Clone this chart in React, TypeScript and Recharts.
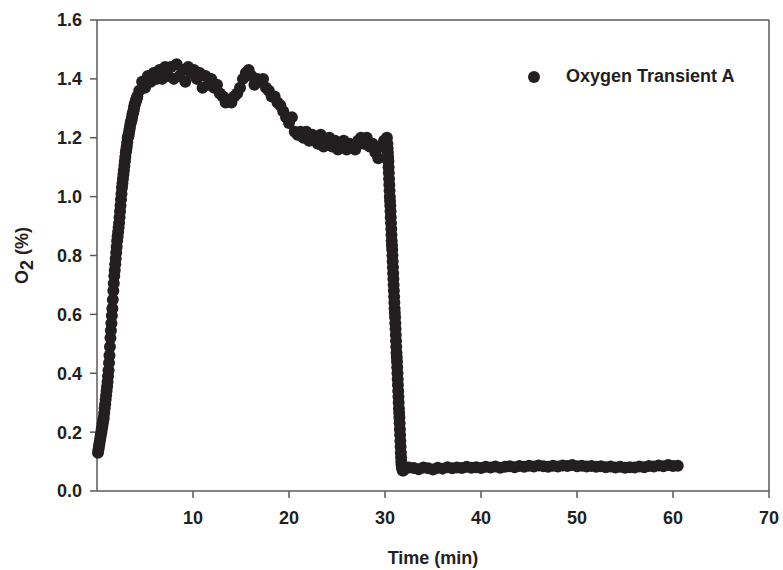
import { ScatterChart, Scatter, XAxis, YAxis, ReferenceLine } from "recharts";

// time (min) and O2 (%), split by segment
const riseTime = [
  0.1, 0.15, 0.2, 0.25, 0.3, 0.35, 0.4, 0.45, 0.5, 0.55, 0.6, 0.65, 0.7,
  0.75, 0.8, 0.85, 0.9, 0.95, 1.0, 1.05, 1.1, 1.15, 1.2, 1.25, 1.3, 1.35,
  1.4, 1.45, 1.5, 1.55, 1.6, 1.65, 1.7, 1.75, 1.8, 1.85, 1.9, 1.95, 2.0,
  2.05, 2.1, 2.15, 2.2, 2.25, 2.3, 2.35, 2.4, 2.45, 2.5, 2.55, 2.6, 2.65,
  2.7, 2.75, 2.8, 2.85, 2.9, 2.95, 3.0, 3.05, 3.1, 3.15, 3.2, 3.25, 3.3,
  3.35, 3.4, 3.45, 3.5, 3.55, 3.6, 3.65, 3.7, 3.75, 3.8, 3.85, 3.9, 3.95,
  4.0, 4.05, 4.1, 4.15, 4.2,
];
const riseO2 = [
  0.13, 0.14, 0.15, 0.16, 0.17, 0.18, 0.19, 0.2, 0.21, 0.22, 0.23, 0.24,
  0.25, 0.265, 0.28, 0.295, 0.31, 0.325, 0.34, 0.355, 0.37, 0.39, 0.41,
  0.435, 0.46, 0.49, 0.52, 0.545, 0.57, 0.595, 0.62, 0.65, 0.68, 0.705,
  0.73, 0.75, 0.77, 0.79, 0.81, 0.83, 0.85, 0.865, 0.88, 0.895, 0.91, 0.93,
  0.95, 0.97, 0.99, 1.01, 1.03, 1.045, 1.06, 1.075, 1.09, 1.105, 1.12,
  1.135, 1.15, 1.16, 1.17, 1.185, 1.2, 1.205, 1.21, 1.22, 1.23, 1.24, 1.25,
  1.255, 1.26, 1.27, 1.28, 1.285, 1.29, 1.3, 1.31, 1.315, 1.32, 1.325,
  1.33, 1.335, 1.34,
];

const plateauTime = [
  4.4, 4.7, 5.0, 5.3, 5.6, 5.9, 6.2, 6.5, 6.8, 7.1, 7.4, 7.7, 8.0, 8.3,
  8.6, 8.9, 9.2, 9.5, 9.8, 10.1, 10.4, 10.7, 11.0, 11.3, 11.6, 11.9, 12.2,
  12.5, 12.8, 13.1, 13.4, 13.7, 14.0, 14.3, 14.6, 14.9, 15.2, 15.5, 15.8,
  16.1, 16.4, 16.7, 17.0, 17.3, 17.6, 17.9, 18.2, 18.5, 18.8, 19.1, 19.4,
  19.7, 20.0, 20.3, 20.6, 20.9, 21.2, 21.5, 21.8, 22.1, 22.4, 22.7, 23.0,
  23.3, 23.6, 23.9, 24.2, 24.5, 24.8, 25.1, 25.4, 25.7, 26.0, 26.3, 26.6,
  26.9, 27.2, 27.5, 27.8, 28.1, 28.4, 28.7, 29.0, 29.3, 29.6, 29.9, 30.2,
];
const plateauO2 = [
  1.36, 1.39, 1.37, 1.41, 1.39, 1.42, 1.4, 1.43, 1.4, 1.44, 1.41, 1.44,
  1.4, 1.45, 1.41, 1.43, 1.39, 1.44, 1.42, 1.43, 1.4, 1.42, 1.37, 1.41,
  1.38, 1.4, 1.37, 1.38, 1.35, 1.34, 1.32, 1.33, 1.32, 1.34, 1.35, 1.37,
  1.4, 1.42, 1.43, 1.41, 1.38, 1.4, 1.39, 1.4, 1.37, 1.36, 1.34, 1.34,
  1.32, 1.31, 1.29, 1.27, 1.25, 1.27, 1.22, 1.21, 1.22, 1.2, 1.22, 1.19,
  1.21, 1.2, 1.18, 1.21, 1.17, 1.19, 1.2, 1.17, 1.19, 1.16, 1.18, 1.19,
  1.16, 1.18, 1.17, 1.16, 1.19, 1.2, 1.18, 1.2, 1.17, 1.18, 1.15, 1.13,
  1.17, 1.19, 1.2,
];

const dropTime = [
  30.25, 30.275, 30.3, 30.325, 30.35, 30.375, 30.4, 30.425, 30.45, 30.475,
  30.5, 30.525, 30.55, 30.575, 30.6, 30.625, 30.65, 30.675, 30.7, 30.725,
  30.75, 30.775, 30.8, 30.825, 30.85, 30.875, 30.9, 30.925, 30.95, 30.975,
  31.0, 31.025, 31.05, 31.075, 31.1, 31.125, 31.15, 31.175, 31.2, 31.225,
  31.25, 31.275, 31.3, 31.325, 31.35, 31.375, 31.4, 31.425, 31.45, 31.475,
  31.5, 31.525, 31.55, 31.575, 31.6, 31.625, 31.65, 31.675, 31.7, 31.725,
  31.75, 31.775, 31.8, 31.85, 31.9,
];
const dropO2 = [
  1.18, 1.165, 1.15, 1.135, 1.12, 1.1, 1.08, 1.06, 1.04, 1.02, 1.0, 0.985,
  0.97, 0.95, 0.93, 0.91, 0.89, 0.87, 0.85, 0.835, 0.82, 0.8, 0.78, 0.76,
  0.74, 0.72, 0.7, 0.68, 0.66, 0.64, 0.62, 0.605, 0.59, 0.57, 0.55, 0.53,
  0.51, 0.49, 0.47, 0.455, 0.44, 0.42, 0.4, 0.38, 0.36, 0.34, 0.32, 0.3,
  0.28, 0.265, 0.25, 0.23, 0.21, 0.19, 0.17, 0.15, 0.13, 0.115, 0.1, 0.09,
  0.085, 0.08, 0.075, 0.07, 0.07,
];

const tailTime = [
  32.0, 32.5, 33.0, 33.5, 34.0, 34.5, 35.0, 35.5, 36.0, 36.5, 37.0, 37.5,
  38.0, 38.5, 39.0, 39.5, 40.0, 40.5, 41.0, 41.5, 42.0, 42.5, 43.0, 43.5,
  44.0, 44.5, 45.0, 45.5, 46.0, 46.5, 47.0, 47.5, 48.0, 48.5, 49.0, 49.5,
  50.0, 50.5, 51.0, 51.5, 52.0, 52.5, 53.0, 53.5, 54.0, 54.5, 55.0, 55.5,
  56.0, 56.5, 57.0, 57.5, 58.0, 58.5, 59.0, 59.5, 60.0, 60.5,
];
const tailO2 = [
  0.075, 0.08, 0.078, 0.074, 0.08, 0.077, 0.073, 0.079, 0.076, 0.081, 0.077,
  0.08, 0.078, 0.082, 0.079, 0.081, 0.078, 0.082, 0.08, 0.083, 0.079, 0.082,
  0.084, 0.081, 0.085, 0.082, 0.086, 0.083, 0.087, 0.084, 0.082, 0.086,
  0.083, 0.087, 0.085, 0.088, 0.084, 0.086, 0.083, 0.085, 0.082, 0.084,
  0.081, 0.083, 0.08, 0.082, 0.079, 0.081, 0.08, 0.083, 0.081, 0.085, 0.083,
  0.087, 0.084, 0.088, 0.085, 0.086,
];

const xTicks = [10, 20, 30, 40, 50, 60, 70];
const yTicks = [0, 0.2, 0.4, 0.6, 0.8, 1.0, 1.2, 1.4, 1.6];

const zip = (t: number[], v: number[]) => t.map((x, i) => ({ time: x, o2: v[i] }));

const points = [
  ...zip(riseTime, riseO2),
  ...zip(plateauTime, plateauO2),
  ...zip(dropTime, dropO2),
  ...zip(tailTime, tailO2),
];

const INK = "#231f20";
const AXIS = "#5a5a5a";
const FONT = "'Liberation Sans', Arial, sans-serif";
const SIZE = 18;

const Dot = (props: any) => (
  <circle cx={props.cx} cy={props.cy} r={6} fill={INK} />
);

const YLabel = (props: any) => {
  const { viewBox } = props;
  const cy = viewBox.y + viewBox.height / 2;
  return (
    <text
      transform={`translate(28, ${cy}) rotate(-90)`}
      textAnchor="middle"
      fill={INK}
      fontFamily={FONT}
      fontWeight="bold"
      fontSize={SIZE}
    >
      O<tspan dy={5}>2</tspan>
      <tspan dy={-5}> (%)</tspan>
    </text>
  );
};

export default function App() {
  return (
    <div style={{ position: "absolute", left: 0, top: 0, background: "#fff" }}>
      <ScatterChart
        width={783}
        height={570}
        margin={{ top: 20, right: 14, bottom: 0, left: 0 }}
      >
        <XAxis
          type="number"
          dataKey="time"
          domain={[0, 70]}
          ticks={xTicks}
          height={79}
          tickSize={7}
          tickMargin={13}
          stroke={AXIS}
          strokeWidth={1.5}
          tick={{ fill: INK, fontFamily: FONT, fontWeight: "bold", fontSize: SIZE }}
          label={{
            value: "Time (min)",
            position: "insideBottom",
            offset: 6,
            fill: INK,
            fontFamily: FONT,
            fontWeight: "bold",
            fontSize: SIZE,
          }}
        />
        <YAxis
          type="number"
          dataKey="o2"
          domain={[0, 1.6]}
          ticks={yTicks}
          width={97}
          tickSize={7}
          tickMargin={8}
          stroke={AXIS}
          strokeWidth={1.5}
          tickFormatter={(v: number) => v.toFixed(1)}
          tick={{ fill: INK, fontFamily: FONT, fontWeight: "bold", fontSize: SIZE }}
          label={{ content: YLabel }}
        />
        <ReferenceLine y={1.6} stroke={AXIS} strokeWidth={1.5} />
        <ReferenceLine x={70} stroke={AXIS} strokeWidth={1.5} />
        <Scatter
          name="Oxygen Transient A"
          data={points}
          fill={INK}
          shape={Dot}
          isAnimationActive={false}
        />
      </ScatterChart>
      <div
        style={{
          position: "absolute",
          left: 528,
          top: 66,
          display: "flex",
          alignItems: "center",
          fontFamily: FONT,
          fontWeight: "bold",
          fontSize: SIZE,
          color: INK,
          whiteSpace: "nowrap",
        }}
      >
        <svg width={12} height={12} style={{ marginRight: 26 }}>
          <circle cx={6} cy={6} r={6} fill={INK} />
        </svg>
        Oxygen Transient A
      </div>
    </div>
  );
}
